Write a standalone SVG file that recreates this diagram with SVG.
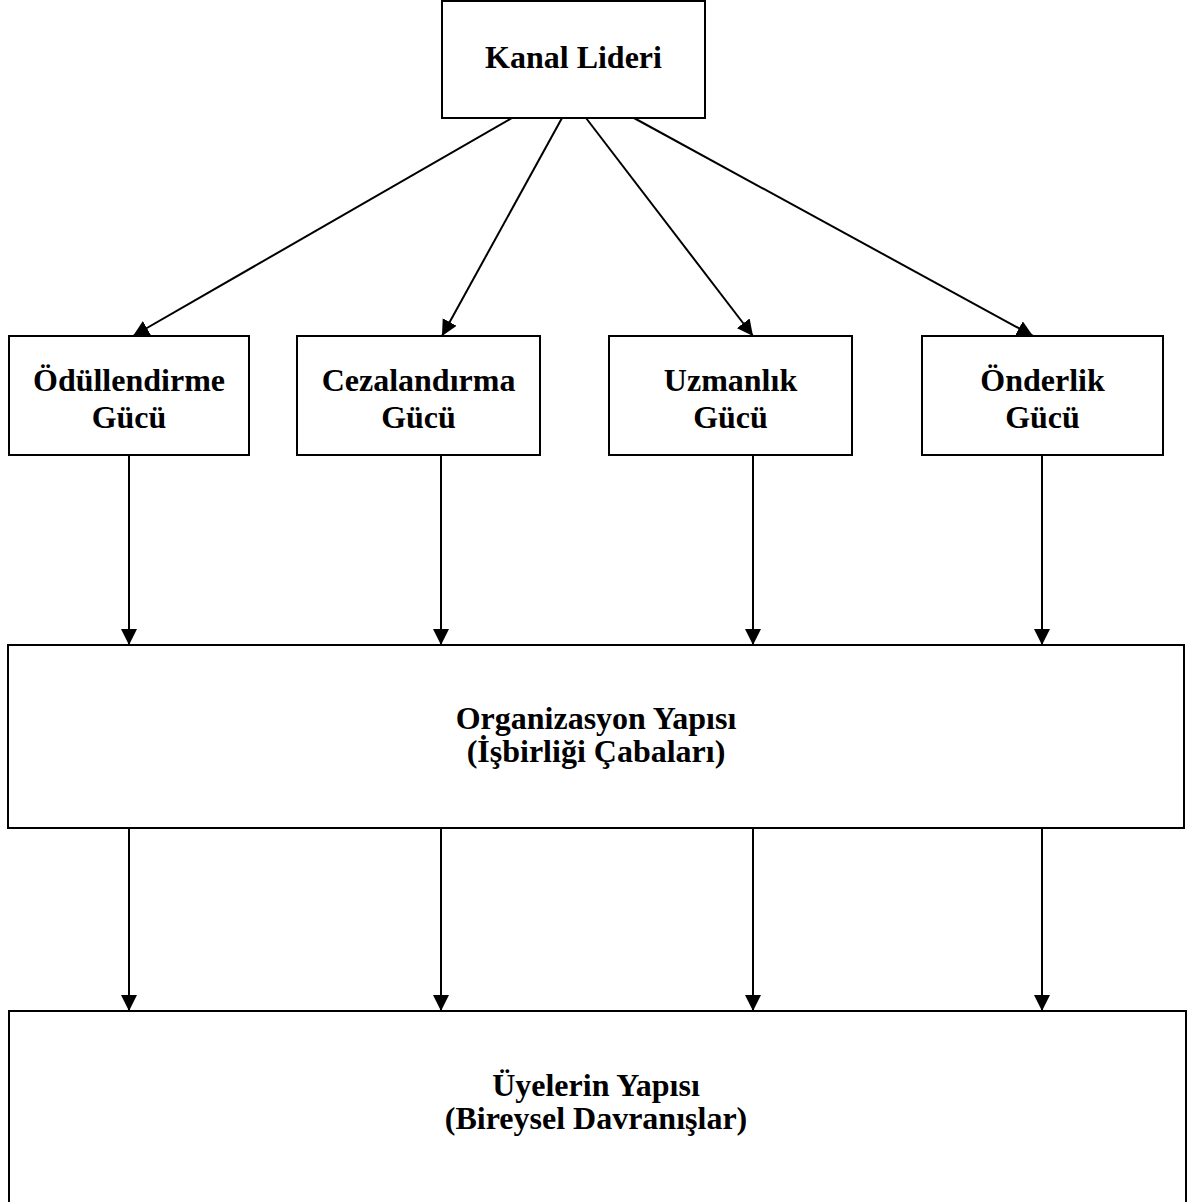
<svg xmlns="http://www.w3.org/2000/svg" width="1189" height="1202" viewBox="0 0 1189 1202">
  <style>
    .box { fill: #ffffff; stroke: #000000; stroke-width: 2; }
    .lbl { font-family: "Liberation Serif", "Times New Roman", serif; font-weight: bold; font-size: 32px; fill: #000000; text-anchor: middle; }
    .link { stroke: #000000; stroke-width: 2; fill: none; marker-end: url(#arrow); }
  </style>
  <defs>
    <marker id="arrow" viewBox="0 0 16 16" refX="16" refY="8" markerWidth="16" markerHeight="16" markerUnits="userSpaceOnUse" orient="auto">
      <path d="M0,0 L16,8 L0,16 Z" fill="#000000"/>
    </marker>
  </defs>
  <rect width="1189" height="1202" fill="#ffffff"/>

  <g id="kanal-lideri">
    <rect class="box" x="442" y="1" width="263" height="117"/>
    <text class="lbl" x="573.5" y="68">Kanal Lideri</text>
  </g>

  <g id="odullendirme-gucu">
    <rect class="box" x="9" y="336" width="240" height="119"/>
    <text class="lbl" x="129" y="391">Ödüllendirme</text>
    <text class="lbl" x="129" y="428">Gücü</text>
  </g>

  <g id="cezalandirma-gucu">
    <rect class="box" x="297" y="336" width="243" height="119"/>
    <text class="lbl" x="418.5" y="391">Cezalandırma</text>
    <text class="lbl" x="418.5" y="428">Gücü</text>
  </g>

  <g id="uzmanlik-gucu">
    <rect class="box" x="609" y="336" width="243" height="119"/>
    <text class="lbl" x="730.5" y="391">Uzmanlık</text>
    <text class="lbl" x="730.5" y="428">Gücü</text>
  </g>

  <g id="onderlik-gucu">
    <rect class="box" x="922" y="336" width="241" height="119"/>
    <text class="lbl" x="1042.5" y="391">Önderlik</text>
    <text class="lbl" x="1042.5" y="428">Gücü</text>
  </g>

  <g id="organizasyon-yapisi">
    <rect class="box" x="8" y="645" width="1176" height="183"/>
    <text class="lbl" x="596" y="729">Organizasyon Yapısı</text>
    <text class="lbl" x="596" y="762">(İşbirliği Çabaları)</text>
  </g>

  <g id="uyelerin-yapisi">
    <rect class="box" x="9" y="1011" width="1177" height="220"/>
    <text class="lbl" x="596" y="1096">Üyelerin Yapısı</text>
    <text class="lbl" x="596" y="1129">(Bireysel Davranışlar)</text>
  </g>

  <g id="connectors">
    <line class="link" x1="512" y1="118" x2="133" y2="336"/>
    <line class="link" x1="562" y1="118" x2="442" y2="336"/>
    <line class="link" x1="586" y1="118" x2="753" y2="336"/>
    <line class="link" x1="634" y1="118" x2="1033" y2="336"/>

    <line class="link" x1="129" y1="455" x2="129" y2="645"/>
    <line class="link" x1="441" y1="455" x2="441" y2="645"/>
    <line class="link" x1="753" y1="455" x2="753" y2="645"/>
    <line class="link" x1="1042" y1="455" x2="1042" y2="645"/>

    <line class="link" x1="129" y1="828" x2="129" y2="1011"/>
    <line class="link" x1="441" y1="828" x2="441" y2="1011"/>
    <line class="link" x1="753" y1="828" x2="753" y2="1011"/>
    <line class="link" x1="1042" y1="828" x2="1042" y2="1011"/>
  </g>
</svg>
